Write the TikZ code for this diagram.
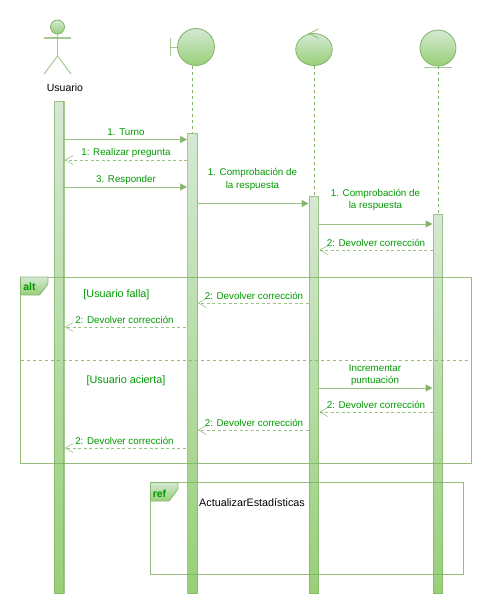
\documentclass[tikz,border=0pt]{standalone}
\usepackage{fontspec}
\setmainfont{Liberation Sans}
\usetikzlibrary{arrows.meta,shapes.geometric}
\definecolor{umlline}{HTML}{82B366}
\definecolor{umltop}{HTML}{D5E8D4}
\definecolor{umlbottom}{HTML}{97D077}
\definecolor{umltext}{HTML}{009900}
\begin{document}
\begin{tikzpicture}[
    x=1pt, y=-1pt,
    bar/.style={rectangle, draw=umlline, draw opacity=0.7, line width=1.1pt, top color=umltop, bottom color=umlbottom, minimum width=9.5pt, minimum height=#1, inner sep=0pt, anchor=north},
    obj/.style={circle, draw=umlline, line width=0.8pt, top color=umltop, bottom color=umlbottom, minimum size=#1, inner sep=0pt},
    part/.style={draw=umlline, draw opacity=0.7, line width=1pt},
    life/.style={draw=umlline, line width=0.9pt, dash pattern=on 3pt off 3pt},
    msg/.style={draw=umlline, draw opacity=0.8, line width=1pt, -{Triangle[length=7pt, width=7pt, fill=umlline]}},
    back/.style={draw=umlline, draw opacity=0.8, line width=0.8pt, dash pattern=on 3pt off 2.5pt, -{Straight Barb[length=8pt, width=9pt, line width=0.6pt]}},
    txt/.style={font=\fontsize{9.8}{12.5}\selectfont, text=umltext, align=center, inner sep=0pt},
    guard/.style={txt, font=\fontsize{10.8}{12.5}\selectfont},
    frame/.style={draw=umlline, draw opacity=0.85, line width=0.9pt},
    tab/.style={frame, top color=umltop, bottom color=umlbottom}
]
\useasboundingbox (0,0) rectangle (503,613);

% Activation bars
\node[bar=492pt] (barU) at (59.25,101) {};
\node[bar=460pt] (barB) at (192.5,133) {};
\node[bar=397pt] (barC) at (314,196) {};
\node[bar=379pt] (barE) at (438,214) {};

% Usuario
\node[obj=14pt] (head) at (57.5,27) {};
\coordinate (neck) at (57.5,38);
\coordinate (hip) at (57.5,56);
\coordinate (armL) at (44,38);
\coordinate (armR) at (71,38);
\coordinate (legL) at (44,74);
\coordinate (legR) at (71,74);
\draw[part] (head) -- (hip);
\draw[part, line width=1.6pt] (armL) -- (armR);
\draw[part] (legL) -- (hip) -- (legR);
\node[font=\fontsize{10.5}{12}\selectfont, inner sep=0pt] (usuario) at (65,87.5) {Usuario};

% Boundary
\node[obj=37pt] (boundary) at (196,47) {};
\coordinate (bndTop) at (170,38);
\coordinate (bndBot) at (170,56);
\coordinate (bndMid) at (170,47);
\draw[part] (bndTop) -- (bndBot);
\draw[part] (bndMid) -- (boundary);

% Control
\node[ellipse, draw=umlline, line width=0.8pt, top color=umltop, bottom color=umlbottom, minimum width=36.5pt, minimum height=32pt, inner sep=0pt] (control) at (314,49.5) {};
\coordinate (ctlA) at (318.5,29);
\coordinate (ctlB) at (309,33.5);
\coordinate (ctlC) at (318.5,38);
\draw[part] (ctlA) -- (ctlB) -- (ctlC);

% Entity
\node[obj=36pt] (entity) at (438,48) {};
\coordinate (entL) at (424,67);
\coordinate (entR) at (452,67);
\draw[part] (entL) -- (entR);

% Lifelines
\draw[life] (192.5,66) coordinate (lifeB) -- (barB.north);
\draw[life] (control.south) -- (barC.north);
\draw[life] (entity.south) -- (barE.north);

% Message heights
\coordinate (m1) at (0,139.5);
\coordinate (m2) at (0,160);
\coordinate (m3) at (0,187);
\coordinate (m4) at (0,203.5);
\coordinate (m5) at (0,224);
\coordinate (m6) at (0,250);
\coordinate (m7) at (0,303);
\coordinate (m8) at (0,327);
\coordinate (m9) at (0,388);
\coordinate (m10) at (0,412);
\coordinate (m11) at (0,430);
\coordinate (m12) at (0,448);

% Messages
\draw[msg] (barU.east |- m1) -- (barB.west |- m1);
\draw[back] (barB.west |- m2) -- (barU.east |- m2);
\draw[msg] (barU.east |- m3) -- (barB.west |- m3);
\draw[msg] (barB.east |- m4) -- (barC.west |- m4);
\draw[msg] (barC.east |- m5) -- (barE.west |- m5);
\draw[back] (barE.west |- m6) -- (barC.east |- m6);
\draw[back] (barC.west |- m7) -- (barB.east |- m7);
\draw[back, shorten <=1.5pt] (barB.west |- m8) -- (barU.east |- m8);
\draw[msg] (barC.east |- m9) -- (barE.west |- m9);
\draw[back] (barE.west |- m10) -- (barC.east |- m10);
\draw[back] (barC.west |- m11) -- (barB.east |- m11);
\draw[back, shorten <=1.5pt] (barB.west |- m12) -- (barU.east |- m12);

% Message labels
\node[txt] (lblTurno) at (126,132.5) {1. Turno};
\node[txt] (lblPregunta) at (126,152.5) {1: Realizar pregunta};
\node[txt] (lblResponder) at (126,180) {3. Responder};
\node[txt] (lblCompA) at (252.5,179.5) {1. Comprobación de\\la respuesta};
\node[txt] (lblCompB) at (375.5,200) {1. Comprobación de\\la respuesta};
\node[txt] (lblDevA) at (376,242.5) {2: Devolver corrección};
\node[txt] (lblDevB) at (254,296) {2: Devolver corrección};
\node[txt] (lblDevC) at (124.5,320) {2: Devolver corrección};
\node[txt] (lblInc) at (375,375) {Incrementar\\puntuación};
\node[txt] (lblDevD) at (376,405) {2: Devolver corrección};
\node[txt] (lblDevE) at (254,423) {2: Devolver corrección};
\node[txt] (lblDevF) at (124.5,441) {2: Devolver corrección};
\node[guard] (falla) at (116.5,294.5) {[Usuario falla]};
\node[guard] (acierta) at (126,380.5) {[Usuario acierta]};

% alt frame
\draw[frame] (20.5,277) rectangle (471,463);
\draw[tab] (20.5,277) -- (48,277) -- (48,284) -- (39.5,295) -- (20.5,295) -- cycle;
\node[txt, font=\fontsize{10.5}{12}\selectfont\bfseries] (altTxt) at (29.5,287) {alt};
\coordinate (sepL) at (21,360);
\coordinate (sepR) at (471,360);
\draw[frame, dash pattern=on 3pt off 3pt] (sepL) -- (sepR);

% ref frame
\draw[frame] (150.5,482.5) rectangle (463.5,574);
\draw[tab] (150.5,482.5) -- (178,482.5) -- (178,489) -- (169,501) -- (150.5,501) -- cycle;
\node[txt, font=\fontsize{10.5}{12}\selectfont\bfseries] (refTxt) at (159.5,494) {ref};
\node[font=\fontsize{10.8}{12}\selectfont, inner sep=0pt, anchor=west] (actualizar) at (199,502.5) {ActualizarEstadísticas};
\end{tikzpicture}
\end{document}
